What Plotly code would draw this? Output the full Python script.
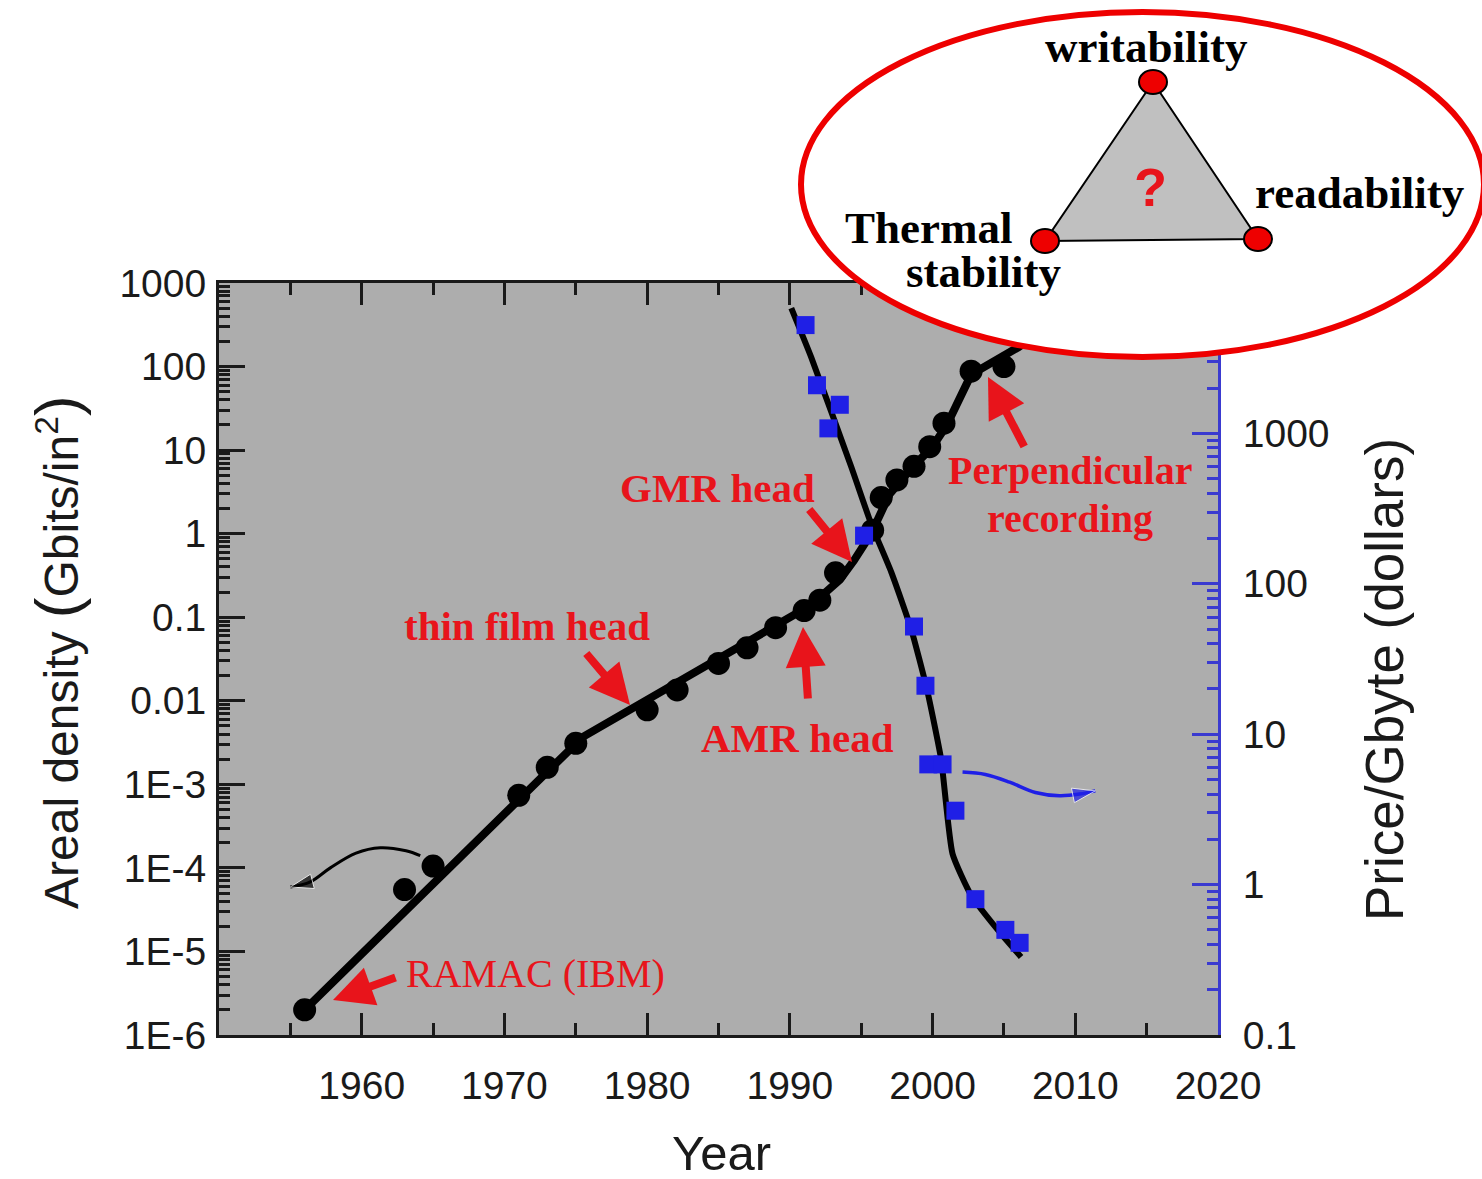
import plotly.graph_objects as go

# ---------------- data ----------------
density_years = [1956, 1963, 1965, 1971, 1973, 1975, 1980, 1982.1, 1985, 1987, 1989, 1991, 1992.1,
                 1993.2, 1995.8, 1996.4, 1997.5, 1998.7, 1999.8, 2000.8, 2002.7, 2005]
density_vals = [2e-6, 5.5e-5, 1.05e-4, 7.4e-4, 1.6e-3, 3.1e-3, 7.8e-3, 0.0135, 0.028, 0.043, 0.075,
                0.12, 0.16, 0.34, 1.1, 2.7, 4.4, 6.4, 11, 21, 88, 100]

density_fit_years = [1956, 1975.5, 1991.5, 1993.5, 1994.5, 1995.7, 1997, 1998.5, 2000, 2001, 2002.7, 2006, 2008]
density_fit_vals = [2e-6, 3.7e-3, 0.14, 0.28, 0.48, 1.0, 3.0, 6.0, 11, 20, 80, 170, 300]

price_years = [1991.1, 1991.9, 1992.7, 1993.5, 1995.2, 1998.7, 1999.5, 1999.7, 2000.7, 2001.6, 2003.0, 2005.1, 2006.1]
price_vals = [5250, 2090, 1080, 1550, 209, 52, 21, 6.3, 6.3, 3.1, 0.8, 0.5, 0.41]

price_fit_years = [1990.1, 1991.5, 1994.3, 1995.7, 1997.1, 1998.5, 1999.6, 2000.6, 2001.4, 2002.7, 2004.8, 2006.2]
price_fit_vals = [6800, 3200, 600, 250, 120, 50, 20, 6.8, 1.6, 0.85, 0.47, 0.33]

left_arrow_years = [1964.1, 1963.1, 1961.3, 1959.6, 1957.8, 1956.4, 1955.0]
left_arrow_vals = [1.4e-4, 1.6e-4, 1.74e-4, 1.5e-4, 1.0e-4, 6.8e-5, 5.9e-5]

right_arrow_years = [2002.1, 2003.7, 2005.4, 2007.2, 2008.9, 2010.3, 2011.4]
right_arrow_vals = [5.6, 5.4, 4.8, 4.1, 3.9, 4.0, 4.2]

x_ticks = [1960, 1970, 1980, 1990, 2000, 2010, 2020]
y_ticks = [1e-6, 1e-5, 1e-4, 1e-3, 0.01, 0.1, 1, 10, 100, 1000]
y_ticktext = ["1E-6", "1E-5", "1E-4", "1E-3", "0.01", "0.1", "1", "10", "100", "1000"]
y2_ticks = [0.1, 1, 10, 100, 1000]
y2_ticktext = ["0.1", "1", "10", "100", "1000"]

# ---------------- layout helpers ----------------
W, H = 1482, 1179
L, T, PW, PH = 219, 283, 999, 752


def xp(px):
    return (px - L) / PW


def yp(py):
    return (T + PH - py) / PH


def minor_vals(lo, hi):
    out = []
    for e in range(lo, hi):
        for m in range(2, 10):
            out.append(m * 10 ** e)
    return out


BLUE = "#1f1fe6"
RED = "#e8141b"
AX = "#1a1a1a"

fig = go.Figure()

fig.add_trace(go.Scatter(x=density_fit_years, y=density_fit_vals, mode="lines",
                         line=dict(color="black", width=8), hoverinfo="skip", showlegend=False))
fig.add_trace(go.Scatter(x=density_years, y=density_vals, mode="markers",
                         marker=dict(color="black", size=23), showlegend=False))
fig.add_trace(go.Scatter(x=left_arrow_years, y=left_arrow_vals, mode="lines+markers",
                         line=dict(color="black", width=3, shape="spline"),
                         marker=dict(symbol="arrow", angleref="previous", color="black",
                                     size=[0] * (len(left_arrow_years) - 1) + [24]),
                         showlegend=False))

fig.add_trace(go.Scatter(x=price_fit_years, y=price_fit_vals, mode="lines", yaxis="y2",
                         line=dict(color="black", width=6, shape="spline", smoothing=0.5),
                         hoverinfo="skip", showlegend=False))
fig.add_trace(go.Scatter(x=price_years, y=price_vals, mode="markers", yaxis="y2",
                         marker=dict(color=BLUE, size=18, symbol="square"), showlegend=False))
fig.add_trace(go.Scatter(x=right_arrow_years, y=right_arrow_vals, mode="lines+markers", yaxis="y2",
                         line=dict(color=BLUE, width=3.5, shape="spline"),
                         marker=dict(symbol="arrow", angleref="previous", color=BLUE,
                                     size=[0] * (len(right_arrow_years) - 1) + [24]),
                         showlegend=False))

tickfont = dict(family="Liberation Sans, Arial, sans-serif", size=39, color=AX)

fig.update_layout(
    width=W, height=H,
    margin=dict(l=L, r=W - L - PW, t=T, b=H - T - PH, pad=0),
    paper_bgcolor="white", plot_bgcolor="#adadad",
    showlegend=False,
    xaxis=dict(range=[1950, 2020], tickvals=x_ticks, ticks="inside", ticklen=22, tickwidth=3,
               tickcolor=AX, showline=True, linecolor=AX, linewidth=3, mirror="ticks",
               showgrid=False, zeroline=False, tickfont=tickfont, ticklabelstandoff=14,
               minor=dict(tickvals=[1955, 1965, 1975, 1985, 1995, 2005, 2015], ticks="inside",
                          ticklen=12, tickwidth=3, tickcolor=AX, showgrid=False)),
    yaxis=dict(type="log", range=[-6, 3], tickvals=y_ticks, ticktext=y_ticktext, ticks="inside",
               ticklen=26, tickwidth=3, tickcolor=AX, showline=True, linecolor=AX, linewidth=3,
               showgrid=False, zeroline=False, tickfont=tickfont, ticklabelstandoff=2,
               minor=dict(tickvals=minor_vals(-6, 3), ticks="inside", ticklen=11, tickwidth=3,
                          tickcolor=AX, showgrid=False)),
    yaxis2=dict(type="log", range=[-1, 4], overlaying="y", side="right", tickvals=y2_ticks,
                ticktext=y2_ticktext, ticks="inside", ticklen=26, tickwidth=3, tickcolor="#3a3ad0",
                showline=True, linecolor="#3a3ad0", linewidth=3, showgrid=False, zeroline=False,
                tickfont=tickfont, ticklabelstandoff=14,
                minor=dict(tickvals=minor_vals(-1, 4), ticks="inside", ticklen=11, tickwidth=3,
                           tickcolor="#3a3ad0", showgrid=False)),
)

ann = []
# axis titles
titlefont = dict(family="Liberation Sans, Arial, sans-serif", size=48, color=AX)
ann.append(dict(text="Areal density <span style='font-size:62px'>(</span>Gbits/in<sup>2</sup><span style='font-size:62px'>)</span>",
                xref="paper", yref="paper", x=xp(56), y=yp(652), textangle=-90, showarrow=False,
                xanchor="center", yanchor="middle", font=titlefont))
ann.append(dict(text="Price/Gbyte (dollars)", xref="paper", yref="paper", x=xp(1384), y=yp(680),
                textangle=-90, showarrow=False, xanchor="center", yanchor="middle",
                font=dict(family="Liberation Sans, Arial, sans-serif", size=53, color=AX)))
ann.append(dict(text="Year", xref="paper", yref="paper", x=xp(721), y=yp(1182), showarrow=False,
                xanchor="center", yanchor="bottom",
                font=dict(family="Liberation Sans, Arial, sans-serif", size=49, color=AX)))

# red labels
serif = "Liberation Serif, Times New Roman, serif"
labels = [
    ("<b>thin film head</b>", 527, 626, 41),
    ("<b>AMR head</b>", 797, 738, 41),
    ("<b>GMR head</b>", 717, 488, 41),
    ("<b>Perpendicular</b>", 1070, 470, 40),
    ("<b>recording</b>", 1070, 518, 40),
    ("RAMAC (IBM)", 535, 973, 40),
]
for txt, cx, cy, fs in labels:
    ann.append(dict(text=txt, xref="paper", yref="paper", x=xp(cx), y=yp(cy), showarrow=False,
                    xanchor="center", yanchor="middle", font=dict(family=serif, size=fs, color=RED)))

# red arrows (tail -> tip), pixel positions
arrows = [((397, 977), (333, 1000)),
          ((585, 652), (630, 705)),
          ((808, 700), (803, 627)),
          ((808, 508), (852, 562)),
          ((1025, 448), (988, 377))]
for (tx, ty), (hx, hy) in arrows:
    ann.append(dict(text="", xref="paper", yref="paper", x=xp(hx), y=yp(hy), ax=tx - hx, ay=ty - hy,
                    showarrow=True, arrowhead=2, arrowsize=1.0, arrowwidth=8, arrowcolor=RED))

# inset labels
inset_font = dict(family=serif, size=45, color="black")
for txt, cx, cy in [("<b>writability</b>", 1146, 47), ("<b>readability</b>", 1360, 193),
                    ("<b>Thermal</b>", 928, 228), ("<b>stability</b>", 984, 272)]:
    ann.append(dict(text=txt, xref="paper", yref="paper", x=xp(cx), y=yp(cy), showarrow=False,
                    xanchor="center", yanchor="middle", font=inset_font))
ann.append(dict(text="<b>?</b>", xref="paper", yref="paper", x=xp(1150), y=yp(187), showarrow=False,
                xanchor="center", yanchor="middle",
                font=dict(family="Liberation Sans, Arial, sans-serif", size=54, color=RED)))
fig.update_layout(annotations=ann)

# inset shapes
shapes = [
    dict(type="circle", xref="paper", yref="paper", x0=xp(801), x1=xp(1484), y0=yp(12), y1=yp(357),
         line=dict(color="#ee0000", width=6), fillcolor="white", layer="above"),
]
tri = [(1153, 82), (1045, 241), (1258, 239)]
path = "M {} {} L {} {} L {} {} Z".format(xp(tri[0][0]), yp(tri[0][1]), xp(tri[1][0]), yp(tri[1][1]),
                                         xp(tri[2][0]), yp(tri[2][1]))
shapes.append(dict(type="path", path=path, xref="paper", yref="paper", fillcolor="#c0c0c0",
                   line=dict(color="black", width=2), layer="above"))
for cx, cy in tri:
    shapes.append(dict(type="circle", xref="paper", yref="paper", x0=xp(cx - 14), x1=xp(cx + 14),
                       y0=yp(cy - 12), y1=yp(cy + 12), fillcolor="#ee0000",
                       line=dict(color="black", width=2), layer="above"))
fig.update_layout(shapes=shapes)

fig.write_html("out.html")
